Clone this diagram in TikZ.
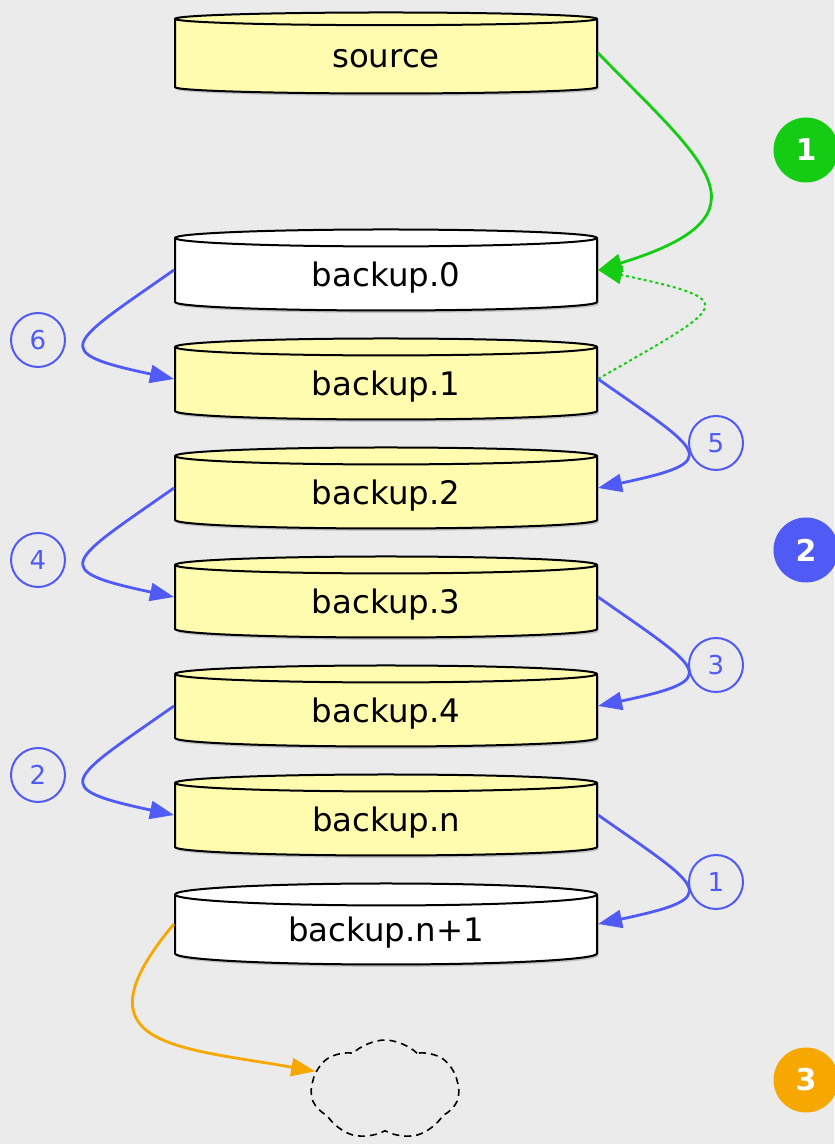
\documentclass[tikz,border=0pt]{standalone}
\usepackage{fontspec}
\setmainfont{DejaVu Sans}
\usetikzlibrary{shapes.geometric,shapes.symbols,arrows.meta,shadows}

\definecolor{bggray}{HTML}{EBEBEB}
\definecolor{dbyellow}{HTML}{FFFCB0}
\definecolor{rotblue}{HTML}{505AF5}
\definecolor{copygreen}{HTML}{14CC14}
\definecolor{droporange}{HTML}{F7A800}

\begin{document}
\begin{tikzpicture}[->,>={Triangle[length=12pt,width=9pt]},auto,
  db/.style={cylinder,shape border rotate=90,draw,line width=1pt,aspect=0.105,
    minimum width=211pt,minimum height=40.5pt,font=\fontsize{16.2}{19}\selectfont,
    text height=1.27em,text depth=0.23em,fill=dbyellow,anchor=shape center,
    drop shadow={shadow xshift=0.8pt,shadow yshift=-1.2pt,opacity=0.4}},
  newdb/.style={db,fill=white},
  stepnum/.style={circle,draw=rotblue,line width=1pt,text=rotblue,minimum size=27pt,inner sep=0pt,font=\fontsize{13}{15}\selectfont},
  phase/.style={circle,text=white,minimum size=32.5pt,inner sep=0pt,font=\fontsize{15}{17}\selectfont\bfseries},
  rotarrow/.style={rotblue,line width=1.4pt,distance=65pt}]

  \fill[bggray] (0,0) rectangle (417pt,572pt);
  \useasboundingbox (0,0) rectangle (417pt,572pt);

  \node[db] (src) at (193pt,545.5pt) {source};
  \node[newdb] (b0) at ([yshift=-108.5pt]src.shape center) {backup.0};
  \node[db] (b1) at ([yshift=-54.5pt]b0.shape center) {backup.1};
  \node[db] (b2) at ([yshift=-54.5pt]b1.shape center) {backup.2};
  \node[db] (b3) at ([yshift=-54.5pt]b2.shape center) {backup.3};
  \node[db] (b4) at ([yshift=-54.5pt]b3.shape center) {backup.4};
  \node[db] (bn) at ([yshift=-54.5pt]b4.shape center) {backup.n};
  \node[newdb] (bn1) at ([yshift=-54.5pt]bn.shape center) {backup.n+1};

  \node[cloud,cloud puffs=7,cloud puff arc=90,aspect=1.5,draw,thick,
    dash pattern=on 3.5pt off 2.5pt,minimum width=74pt,minimum height=50pt] (trash) at (192.5pt,27pt) {};

  \node[phase,fill=copygreen] (p1) at (403pt,497pt) {1};
  \node[phase,fill=rotblue] (p2) at (403pt,297pt) {2};
  \node[phase,fill=droporange] (p3) at (403pt,32pt) {3};

  \node[stepnum] (s6) at (19pt,402pt) {6};
  \node[stepnum] (s5) at (358pt,350.5pt) {5};
  \node[stepnum] (s4) at (19pt,292pt) {4};
  \node[stepnum] (s3) at (358pt,239.5pt) {3};
  \node[stepnum] (s2) at (19pt,184.5pt) {2};
  \node[stepnum] (s1) at (358pt,131pt) {1};

  % copy source into backup.0
  \draw[copygreen,line width=1.4pt] (src.east |- src.shape center) to[out=-46,in=17,out distance=75pt,in distance=95pt] (b0.east |- b0.shape center);
  \draw[copygreen,line width=1pt,dash pattern=on 1.5pt off 1.5pt] (b1.east |- b1.shape center) to[out=30,in=-12,distance=75pt] (b0.east |- b0.shape center);

  % rotation
  \draw[rotarrow] (b0.west |- b0.shape center) to[out=215,in=168] (b1.west |- b1.shape center);
  \draw[rotarrow] (b1.east |- b1.shape center) to[out=-35,in=12] (b2.east |- b2.shape center);
  \draw[rotarrow] (b2.west |- b2.shape center) to[out=215,in=168] (b3.west |- b3.shape center);
  \draw[rotarrow] (b3.east |- b3.shape center) to[out=-35,in=12] (b4.east |- b4.shape center);
  \draw[rotarrow] (b4.west |- b4.shape center) to[out=215,in=168] (bn.west |- bn.shape center);
  \draw[rotarrow] (bn.east |- bn.shape center) to[out=-35,in=12] (bn1.east |- bn1.shape center);

  % drop the oldest
  \draw[droporange,line width=1.4pt] (bn1.west |- bn1.shape center) to[out=230,in=170,out distance=80pt,in distance=70pt] (trash.165);

\end{tikzpicture}
\end{document}
